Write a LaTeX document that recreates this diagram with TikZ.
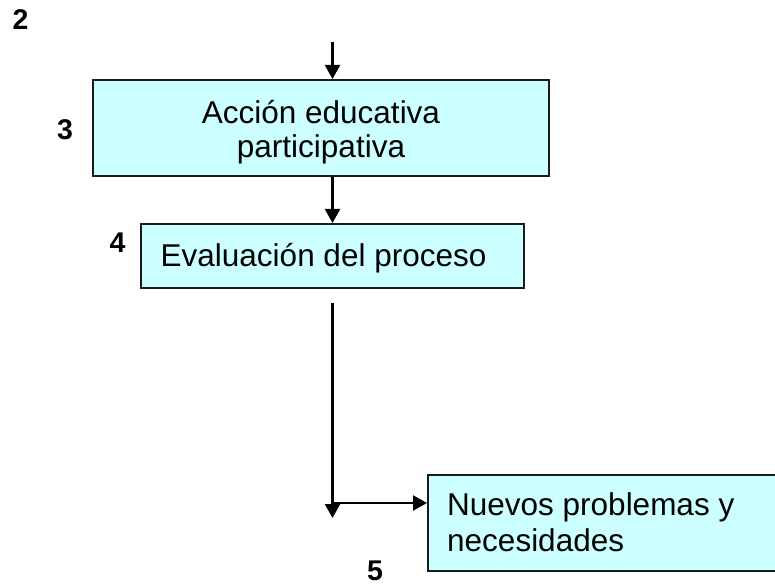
\documentclass[tikz,border=0pt]{standalone}
\usepackage{fontspec}
\setmainfont{Liberation Sans}
\usetikzlibrary{arrows.meta}
\definecolor{boxfill}{HTML}{CCFFFF}
\definecolor{boxline}{HTML}{1A1A1A}
\begin{document}
\begin{tikzpicture}[x=1pt,y=-1pt,
  box/.style={draw=boxline, line width=2pt, fill=boxfill, inner sep=0pt, rectangle},
  boxtext/.style={inner sep=0pt, font=\fontsize{31.5}{34}\selectfont},
  lab/.style={inner sep=0pt, font=\fontsize{28.5}{30}\selectfont\bfseries},
  conn/.style={line width=2.2pt, draw=black},
  arr/.style={conn, -{Triangle[width=15pt,length=14pt]}}]
\useasboundingbox (0,0) rectangle (775,585);

% boxes
\node[box, minimum width=456pt, minimum height=96pt] (b1) at (321,128) {};
\node[box, minimum width=383pt, minimum height=64pt] (b2) at (332.5,256) {};
\node[box, minimum width=372pt, minimum height=96pt] (b3) at (614,523) {};

% box texts
\node[boxtext, align=center] (t1) at (321,131.7) {Acción educativa\\participativa};
\node[boxtext, anchor=base west] (t2) at (160.5,266) {Evaluación del proceso};
\node[boxtext, font=\fontsize{31.5}{36}\selectfont, align=left, anchor=west] (t3) at (447,521.8) {Nuevos problemas y\\necesidades};

% labels
\node[lab] (n2) at (20.5,19.7) {2};
\node[lab] (n3) at (65,130) {3};
\node[lab] (n4) at (117.5,242.7) {4};
\node[lab] (n5) at (375,570.5) {5};

% connectors
\coordinate (top) at (332.5,42);
\coordinate (s) at (332.5,303);
\coordinate (j) at (332.5,503);
\coordinate (e) at (332.5,518);
\draw[arr] (top) -- (top |- b1.north);
\draw[arr] (top |- b1.south) -- (top |- b2.north);
\draw[arr] (s) -- (e);
\draw[arr] (j) -- (j -| b3.west);
\end{tikzpicture}
\end{document}
